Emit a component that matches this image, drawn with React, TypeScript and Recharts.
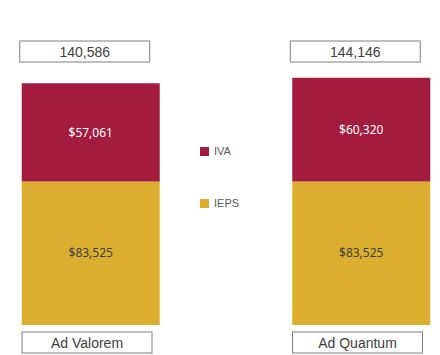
import { Bar, BarChart, LabelList, Legend, XAxis, YAxis } from "recharts";

const categories = ["Ad Valorem", "Ad Quantum"];
const ieps = [83525, 83525];
const iva = [57061, 60320];
const totals = [140586, 144146];

const IVA_COLOR = "#A31C3E";
const IEPS_COLOR = "#DBAE30";
const BOX_FONT = "'Liberation Sans', Arial, sans-serif";

const rows = categories.map((name, i) => ({
  x: i,
  name,
  ieps: ieps[i],
  iva: iva[i],
  total: totals[i],
}));

function money(v: number) {
  return `$${Number(v).toLocaleString("en-US")}`;
}

function BoxLabel({ cx, y, text }: { cx: number; y: number; text: string }) {
  return (
    <g>
      <rect x={cx - 65} y={y} width={130} height={21} fill="#fff" stroke="#7f7f7f" strokeWidth={1} />
      <text x={cx} y={y + 15.5} textAnchor="middle" fontFamily={BOX_FONT} fontSize={14} fill="#404040">
        {text}
      </text>
    </g>
  );
}

function CategoryTick(props: any) {
  const { x, y, payload } = props;
  const name = categories[payload.value];
  if (!name) return null;
  return <BoxLabel cx={x - 4} y={y - 1} text={name} />;
}

function TotalBox(props: any) {
  const { x, width, value } = props;
  return <BoxLabel cx={x + width / 2 - 6} y={41} text={Number(value).toLocaleString("en-US")} />;
}

function LegendBox() {
  const items = [
    { label: "IVA", color: IVA_COLOR },
    { label: "IEPS", color: IEPS_COLOR },
  ];
  return (
    <div style={{ fontFamily: BOX_FONT, fontSize: 11, color: "#595959" }}>
      {items.map((it) => (
        <div key={it.label} style={{ display: "flex", alignItems: "center", height: 14, marginBottom: 38 }}>
          <span style={{ width: 9, height: 9, background: it.color, marginRight: 5, display: "inline-block" }} />
          {it.label}
        </div>
      ))}
    </div>
  );
}

export default function App() {
  return (
    <div style={{ position: "absolute", left: 0, top: 0, background: "#fff" }}>
      <BarChart width={440} height={355} data={rows} margin={{ top: 50, right: 0, bottom: 0, left: 0 }}>
        <XAxis
          type="number"
          dataKey="x"
          domain={[-0.3364, 1.2902]}
          ticks={[0, 1]}
          height={30}
          axisLine={false}
          tickLine={false}
          tick={<CategoryTick />}
        />
        <YAxis hide domain={[0, 160000]} />
        <Legend
          layout="vertical"
          align="center"
          verticalAlign="middle"
          content={<LegendBox />}
          wrapperStyle={{ left: 200, top: 144, width: 60 }}
        />
        <Bar dataKey="ieps" name="IEPS" stackId="a" fill={IEPS_COLOR} barSize={138} isAnimationActive={false}>
          <LabelList
            dataKey="ieps"
            position="center"
            formatter={money}
            fill="#3f3f3f"
            fontSize={12}
            fontFamily="'Noto Sans', sans-serif"
          />
        </Bar>
        <Bar dataKey="iva" name="IVA" stackId="a" fill={IVA_COLOR} barSize={138} isAnimationActive={false}>
          <LabelList
            dataKey="iva"
            position="center"
            formatter={money}
            fill="#ffffff"
            fontSize={12}
            fontFamily="'Noto Sans', sans-serif"
          />
          <LabelList dataKey="total" content={<TotalBox />} />
        </Bar>
      </BarChart>
    </div>
  );
}
